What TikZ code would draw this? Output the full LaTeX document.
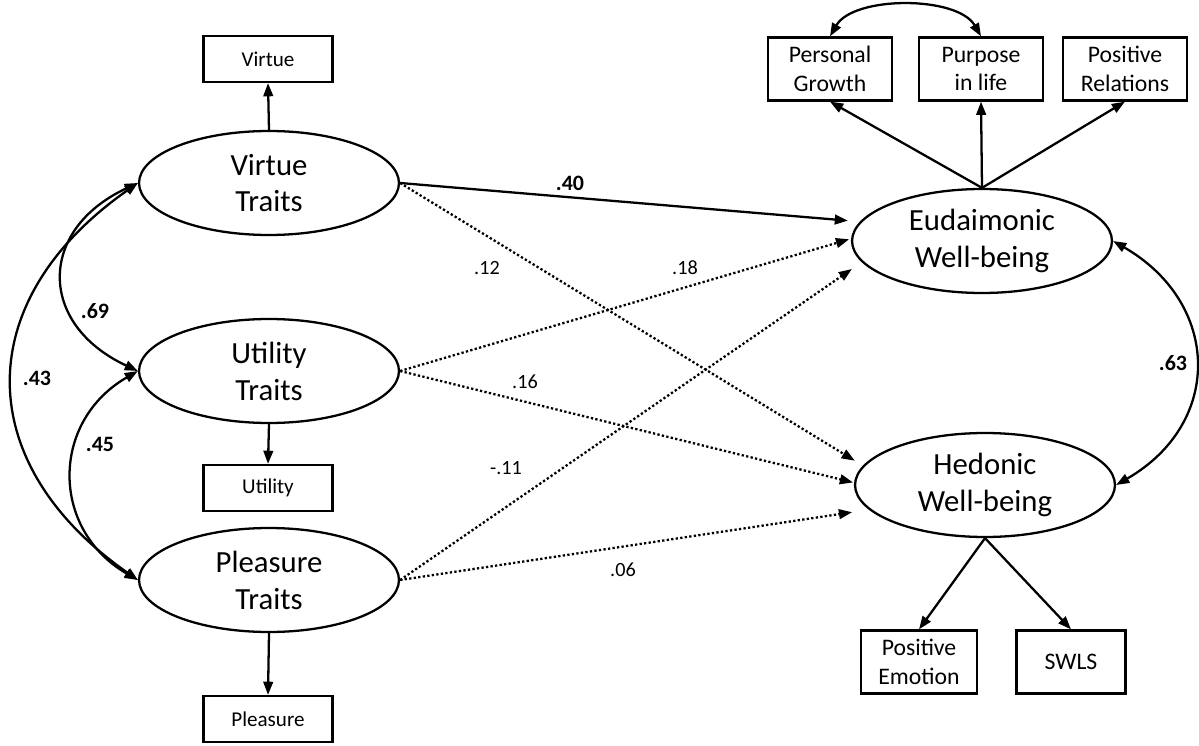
\documentclass[tikz,border=0pt]{standalone}
\usepackage{fontspec}
\setmainfont{Carlito}
\usepackage{tikz}
\usetikzlibrary{arrows.meta,shapes}
\tikzstyle{latent} = [ellipse, draw, line width=1.3pt, minimum width=5.2cm, minimum height=2.08cm, inner sep=0pt, align=center, font=\fontsize{17.5}{21}\selectfont]
\tikzstyle{obs} = [rectangle, draw, line width=1.3pt, inner sep=0pt, align=center, font=\fontsize{13.5}{16.3}\selectfont]
\tikzstyle{obsl} = [obs, minimum width=2.58cm, minimum height=0.92cm, font=\fontsize{12}{14}\selectfont]
\tikzstyle{arrow} = [line width=1.3pt, -{Triangle[length=7.5pt,width=5.5pt]}]
\tikzstyle{weak} = [arrow, dash pattern=on 1.3pt off 1.3pt]
\tikzstyle{corr} = [line width=1.3pt, {Triangle[length=7.5pt,width=5.5pt]}-{Triangle[length=7.5pt,width=5.5pt]}]
\tikzstyle{coef} = [font=\fontsize{11.5}{14}\selectfont]
\tikzstyle{coefb} = [font=\fontsize{12.5}{14}\selectfont\bfseries]

\begin{document}
\begin{tikzpicture}[x=0.02cm, y=0.02cm]
    \useasboundingbox (0,0) rectangle (1199,-746);

    % Traits
    \node[latent] (vt) at (269,-183) {Virtue\\Traits};
    \node[latent] (ut) at (269,-371) {Utility\\Traits};
    \node[latent] (pt) at (269,-580) {Pleasure\\Traits};

    % Well-being
    \node[latent] (eud) at (982,-241) {Eudaimonic\\Well-being};
    \node[latent] (hed) at (985,-485) {Hedonic\\Well-being};

    % Indicators
    \node[obsl] (virtue) at (268,-59) {Virtue};
    \node[obsl] (utility) at (268,-488) {Utility};
    \node[obsl] (pleasure) at (268,-719) {Pleasure};
    \node[obs, minimum width=2.48cm, minimum height=1.26cm] (pg) at (830,-69) {Personal\\Growth};
    \node[obs, minimum width=2.48cm, minimum height=1.26cm] (pl) at (981,-69) {Purpose\\in life};
    \node[obs, minimum width=2.48cm, minimum height=1.26cm] (pr) at (1125,-69) {Positive\\Relations};
    \node[obs, minimum width=2.32cm, minimum height=1.26cm] (pe) at (919,-662) {Positive\\Emotion};
    \node[obs, minimum width=2.18cm, minimum height=1.26cm] (swls) at (1071,-662) {SWLS};

    % Loadings
    \draw[arrow] (vt.north) -- (virtue.south);
    \draw[arrow] (ut.south) -- (utility.north);
    \draw[arrow] (pt.south) -- (pleasure.north);
    \draw[arrow] (eud.north) -- (pg.south);
    \draw[arrow] (eud.north) -- (pl.south);
    \draw[arrow] (eud.north) -- (pr.south);
    \draw[arrow] (hed.south) -- (pe.north);
    \draw[arrow] (hed.south) -- (swls.north);

    % Paths
    \draw[arrow, shorten >=0.24cm] (vt.east) -- (eud.171.6);
    \draw[weak, shorten >=0.19cm] (vt.east) -- (hed.171.5);
    \draw[weak, shorten >=0.04cm] (ut.east) -- (eud.179);
    \draw[weak, shorten >=0.02cm] (ut.east) -- (hed.179);
    \draw[weak, shorten >=0.24cm] (pt.east) -- (eud.190.8);
    \draw[weak, shorten >=0.34cm] (pt.east) -- (hed.192.7);

    % Correlations
    \draw[corr] (vt.west) to[out=205, in=155, looseness=1.51] (ut.west);
    \draw[corr] (ut.west) to[out=210, in=150, looseness=1.24] (pt.west);
    \draw[corr] (vt.west) to[out=215, in=145, looseness=1.32] (pt.west);
    \draw[corr] (eud.east) to[out=-30, in=30, looseness=1.3] (hed.east);
    \draw[corr] (pg.north) to[out=60, in=120, looseness=0.8] (pl.north);

    % Coefficients
    \node[coefb] (c40) at (570,-183) {.40};
    \node[coef] (c12) at (487,-268) {.12};
    \node[coef] (c18) at (685,-268) {.18};
    \node[coef] (c16) at (525,-382) {.16};
    \node[coef] (c11) at (506,-468) {-.11};
    \node[coef] (c06) at (623,-570) {.06};
    \node[coefb] (c69) at (95,-311) {.69};
    \node[coefb] (c45) at (100,-444) {.45};
    \node[coefb] (c43) at (37,-378) {.43};
    \node[coefb] (c63) at (1173,-363) {.63};
\end{tikzpicture}
\end{document}
